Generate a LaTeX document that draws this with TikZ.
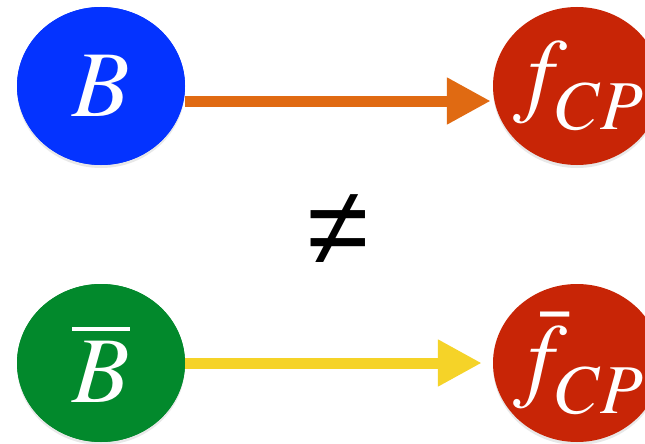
\documentclass[tikz,border=0pt]{standalone}
\usepackage{mathptmx}
\usepackage[no-math]{fontspec}
\newfontfamily\symfont{Liberation Sans}
\usetikzlibrary{shapes.geometric,arrows.meta,shadows}
\DeclareMathSizes{94}{94}{70}{56}
\definecolor{bblue}{RGB}{4,51,255}
\definecolor{bred}{RGB}{200,37,6}
\definecolor{bgreen}{RGB}{2,137,44}
\definecolor{aorange}{RGB}{224,106,18}
\definecolor{ayellow}{RGB}{245,211,40}
\newcommand{\cpsub}{\lower10pt\hbox{$\scriptstyle CP$}}
\tikzset{
  blob/.style={ellipse, minimum width=168pt, minimum height=158pt, inner sep=0pt,
    draw=none, drop shadow={shadow xshift=0pt, shadow yshift=-3pt, opacity=0.18}},
  lbl/.style={text=white, inner sep=0pt, font=\fontsize{94}{94}\selectfont},
  fat/.style={line width=11pt, -{Triangle[length=44pt,width=44pt]}},
}
\begin{document}
\begin{tikzpicture}[x=1pt,y=-1pt]
\useasboundingbox[fill=white] (0,0) rectangle (645,444);
% nodes
\node[blob, fill=bblue] (B) at (101,86) {};
\node[blob, fill=bred] (F) at (577,86) {};
\node[blob, fill=bgreen] (Bb) at (101,363) {};
\node[blob, fill=bred] (Fb) at (577,363) {};
% arrows
\draw[fat, draw=aorange, shorten >=2pt] ([yshift=-15pt]B.east) -- ([yshift=-15pt]F.west);
\draw[fat, draw=ayellow, shorten >=11pt] (Bb.east) -- (Fb.west);
% redraw ellipses' left edges over arrow starts
\fill[bblue] (B) ellipse [x radius=84pt, y radius=79pt];
\fill[bgreen] (Bb) ellipse [x radius=84pt, y radius=79pt];
% labels
\node[lbl] (tB) at (B.center) {$B$};
\node[lbl] (tF) at ([xshift=2pt]F.center) {$f_{\cpsub}$};
\node[lbl] (tBb) at (Bb.center) {$\overline{B}$};
\node[lbl] (tFb) at ([xshift=2pt]Fb.center) {$\bar{f}_{\cpsub}$};
\node[inner sep=0pt, font=\symfont\fontsize{112}{112}\selectfont] (ne) at (338,230) {≠};
\end{tikzpicture}
\end{document}
